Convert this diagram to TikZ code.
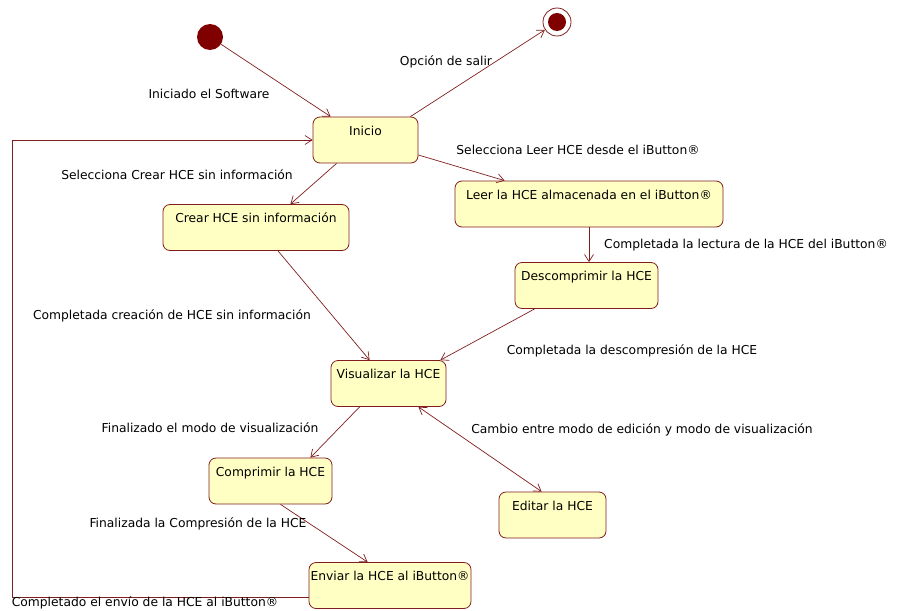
\documentclass[tikz,border=0pt]{standalone}
\usepackage{fontspec}
\setmainfont{DejaVu Sans}
\usetikzlibrary{arrows.meta}
\definecolor{linea}{RGB}{128,30,30}
\definecolor{relleno}{RGB}{255,255,196}
\definecolor{punto}{RGB}{128,0,0}
\tikzset{
  estado/.style={draw=linea, fill=relleno, line width=0.8pt, rounded corners=7pt,
    inner xsep=1.5pt, inner ysep=9pt, text height=9pt, text depth=19pt},
  paso/.style={draw=linea, line width=0.7pt, -{Straight Barb[length=7pt,width=9pt]}},
}
\begin{document}
\begin{tikzpicture}[x=1pt, y=-1pt, font=\fontsize{12.3}{14}\selectfont]
   \useasboundingbox (0,0) rectangle (904,610);
   % estados
   \node[circle, fill=punto, minimum size=26pt, inner sep=0pt] (ini) at (210,37) {};
   \node[circle, draw=linea, line width=0.8pt, minimum size=28pt, inner sep=0pt] (fin) at (557,22) {};
   \node[circle, fill=punto, minimum size=18pt, inner sep=0pt] at (fin) {};
   \node[estado, minimum width=105pt] (inicio) at (365.5,140) {Inicio};
   \node[estado, minimum width=186pt] (crear) at (256,227.5) {Crear HCE sin información};
   \node[estado, minimum width=268pt] (leer) at (589,204) {Leer la HCE almacenada en el iButton®};
   \node[estado, minimum width=143pt] (descomp) at (586.5,285.5) {Descomprimir la HCE};
   \node[estado, minimum width=115pt] (visual) at (388.5,383.5) {Visualizar la HCE};
   \node[estado, minimum width=123pt] (comprimir) at (270.5,481) {Comprimir la HCE};
   \node[estado, minimum width=107pt] (editar) at (552.5,515) {Editar la HCE};
   \node[estado, minimum width=154pt] (enviar) at (390,585.5) {Enviar la HCE al iButton®};
   \coordinate (borde) at (12,0);
   % transiciones
   \draw[paso] (ini) -- ([xshift=18pt]inicio.north west);
   \draw[paso] ([xshift=-8pt]inicio.north east) -- (fin);
   \draw[paso] ([yshift=-15pt]inicio.east) -- ([xshift=50pt]leer.north west);
   \draw[paso] ([xshift=24pt]inicio.south west) -- ([xshift=-59pt]crear.north east);
   \draw[paso] (leer.south) -- (descomp.north -| leer.south);
   \draw[paso] ([xshift=22pt]crear.south) -- ([xshift=39pt]visual.north west);
   \draw[paso] ([xshift=20pt]descomp.south west) -- ([xshift=-6pt]visual.north east);
   \draw[paso] ([xshift=29pt]visual.south west) -- ([xshift=-22pt]comprimir.north east);
   \draw[paso, {Straight Barb[length=7pt,width=9pt]}-{Straight Barb[length=7pt,width=9pt]}] ([xshift=-28pt]visual.south east) -- ([xshift=43pt]editar.north west);
   \draw[paso] ([xshift=10pt]comprimir.south) -- ([xshift=59pt]enviar.north west);
   \draw[paso] ([yshift=-11.5pt]enviar.west) -- ([yshift=-11.5pt]enviar.west -| borde) -- (inicio.west -| borde) -- (inicio.west);
   % textos
   \node (t1) at (209,94) {Iniciado el Software};
   \node (t2) at (446,62) {Opción de salir};
   \node (t3) at (578,150) {Selecciona Leer HCE desde el iButton®};
   \node (t4) at (177,175) {Selecciona Crear HCE sin información};
   \node (t5) at (746,245) {Completada la lectura de la HCE del iButton®};
   \node (t6) at (172,316) {Completada creación de HCE sin información};
   \node (t7) at (632,351) {Completada la descompresión de la HCE};
   \node (t8) at (210,428) {Finalizado el modo de visualización};
   \node (t9) at (642,430) {Cambio entre modo de edición y modo de visualización};
   \node (t10) at (198,524) {Finalizada la Compresión de la HCE};
   \node (t11) at (145,603) {Completado el envío de la HCE al iButton®};
\end{tikzpicture}
\end{document}
